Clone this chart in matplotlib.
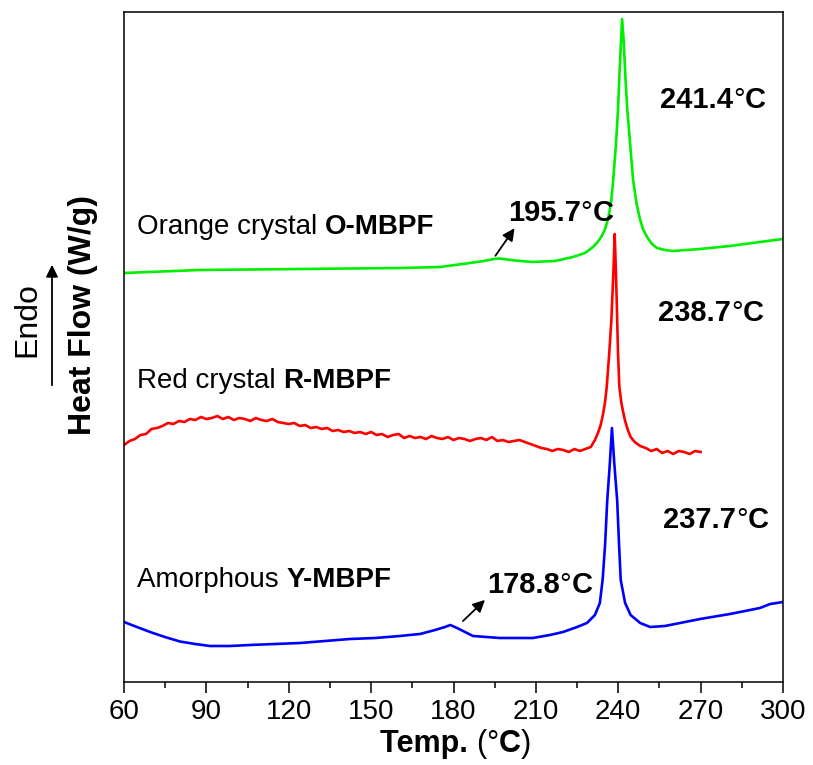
import matplotlib
matplotlib.use("Agg")
import matplotlib.pyplot as plt
from matplotlib.ticker import MultipleLocator

FONT = ["Liberation Sans", "DejaVu Sans"]
plt.rcParams["font.family"] = FONT

# ---- DSC traces (temperature in °C, heat flow in arbitrary offset units) ----
o_temp = [60, 87.7, 124.1, 160.5, 175.1, 186.0, 191.0, 194.7, 196.9, 199.5, 202.4,
          208.9, 217.0, 223.5, 227.9, 230.8, 232.5, 234.0, 235.2, 236.3, 237.4,
          238.1, 239.2, 239.9, 240.4, 241.0, 241.4, 242.0, 242.6, 243.3, 244.3,
          245.4, 246.7, 247.9, 249.0, 250.5, 252.3, 254.1, 257.0, 259.9, 269.8,
          280.7, 291.6, 300]
o_flow = [4.09, 4.12, 4.13, 4.14, 4.15, 4.19, 4.21, 4.23, 4.235, 4.225, 4.215,
          4.20, 4.21, 4.25, 4.29, 4.35, 4.40, 4.46, 4.53, 4.63, 4.80,
          5.00, 5.39, 5.72, 6.05, 6.40, 6.63, 6.40, 6.05, 5.72, 5.39,
          5.02, 4.78, 4.63, 4.53, 4.45, 4.38, 4.34, 4.32, 4.31, 4.33,
          4.36, 4.40, 4.43]

r_temp = [60, 62, 64, 66, 68, 70, 72, 74, 76, 78, 80, 82, 84, 86, 88, 90, 92, 94,
          96, 98, 100, 102, 104, 106, 108, 110, 112, 114, 116, 118, 120, 122, 124,
          126, 128, 130, 132, 134, 136, 138, 140, 142, 144, 146, 148, 150, 152, 154,
          156, 158, 160, 162, 164, 166, 168, 170, 172, 174, 176, 178, 180, 182, 184,
          186, 188, 190, 192, 194, 196, 198, 200, 202, 204, 206, 208, 210, 212, 214,
          216, 218, 220, 222, 224, 226, 228, 230, 231.5, 232.6, 233.6, 234.4, 235.2,
          235.8, 236.7, 237.5, 238.0, 238.3, 238.7, 239.1, 239.5, 239.9, 240.4,
          241.2, 242.4, 243.5, 244.5, 246, 248, 250, 252, 254, 256, 258, 260, 262,
          264, 266, 268, 270]
r_flow = [2.37, 2.41, 2.43, 2.47, 2.48, 2.53, 2.54, 2.56, 2.59, 2.58, 2.61, 2.60,
          2.63, 2.62, 2.65, 2.63, 2.64, 2.66, 2.63, 2.65, 2.62, 2.64, 2.63, 2.61,
          2.64, 2.62, 2.61, 2.63, 2.60, 2.59, 2.58, 2.59, 2.56, 2.57, 2.54, 2.55,
          2.53, 2.54, 2.51, 2.52, 2.50, 2.51, 2.49, 2.50, 2.48, 2.50, 2.47, 2.48,
          2.45, 2.47, 2.48, 2.44, 2.46, 2.44, 2.45, 2.43, 2.46, 2.44, 2.43, 2.45,
          2.42, 2.44, 2.43, 2.41, 2.43, 2.44, 2.42, 2.45, 2.41, 2.42, 2.40, 2.41,
          2.42, 2.40, 2.38, 2.36, 2.34, 2.33, 2.31, 2.33, 2.32, 2.30, 2.33, 2.31,
          2.33, 2.35, 2.42, 2.49, 2.57, 2.67, 2.80, 2.95, 3.28, 3.62, 3.95, 4.15,
          4.48, 4.15, 3.75, 3.30, 2.95, 2.78, 2.62, 2.52, 2.45, 2.40, 2.36, 2.34,
          2.31, 2.33, 2.29, 2.31, 2.28, 2.31, 2.30, 2.28, 2.31, 2.30]

y_temp = [60, 64.7, 69.5, 74.9, 80.4, 85.9, 91.3, 98.6, 105.9, 115.0, 124.1, 133.2,
          142.3, 151.4, 160.5, 164.0, 167.8, 173.3, 176.9, 178.8, 181.3, 184.2,
          187.1, 196.9, 208.9, 215.1, 219.9, 225.0, 228.6, 231.5, 233.3, 234.3,
          235.2, 236.0, 236.9, 237.7, 238.6, 239.6, 240.3, 240.9, 242.5, 244.5,
          248.0, 251.6, 257.0, 262.5, 269.8, 280.7, 291.6, 295.3, 300]
y_flow = [0.60, 0.55, 0.50, 0.45, 0.405, 0.38, 0.36, 0.36, 0.37, 0.38, 0.39, 0.41,
          0.43, 0.44, 0.46, 0.47, 0.48, 0.52, 0.55, 0.57, 0.54, 0.50,
          0.46, 0.44, 0.44, 0.47, 0.50, 0.55, 0.59, 0.67, 0.79, 1.02,
          1.37, 1.82, 2.17, 2.54, 2.17, 1.82, 1.37, 1.02, 0.79, 0.67,
          0.59, 0.55, 0.56, 0.59, 0.63, 0.68, 0.74, 0.78, 0.80]

x_ticks = [60, 90, 120, 150, 180, 210, 240, 270, 300]

fig = plt.figure(figsize=(8.13, 7.65), dpi=100)
ax = fig.add_axes([124 / 813, 1 - 682 / 765, 659 / 813, 670 / 765])

ax.plot(o_temp, o_flow, color="#00ee00", lw=1.9)
ax.plot(r_temp, r_flow, color="#ff0000", lw=1.9)
ax.plot(y_temp, y_flow, color="#0000ff", lw=1.9)

ax.set_xlim(60, 300)
ax.set_ylim(0, 6.70)
ax.set_xticks(x_ticks)
ax.xaxis.set_minor_locator(MultipleLocator(15))
ax.set_yticks([])
ax.tick_params(axis="x", which="major", direction="out", length=8, width=1.1,
               labelsize=20, pad=4)
ax.tick_params(axis="x", which="minor", direction="out", length=4, width=1.1)
for sp in ax.spines.values():
    sp.set_linewidth(1.1)


def rich_text(x, y, parts, size, coords="data"):
    """Draw a run of text pieces with mixed weights, left to right."""
    t = None
    for s, w in parts:
        if t is None:
            t = ax.annotate(s, xy=(x, y), xycoords=coords, ha="left", va="center",
                            fontsize=size, fontweight=w)
        else:
            t = ax.annotate(s, xy=(1, 0), xycoords=t, ha="left", va="bottom",
                            fontsize=size, fontweight=w)
    return t


DEG = "\u00b0"
for T, v, lab in [(255.2, 5.82, "241.4"), (254.5, 3.69, "238.7"), (256.3, 1.62, "237.7"),
                  (199.8, 4.69, "195.7"), (192.2, 0.97, "178.8")]:
    rich_text(T, v, [(lab, "bold"), (DEG, "normal"), ("C", "bold")], 21)

rich_text(64.7, 4.55, [("Orange crystal ", "normal"), ("O-MBPF", "bold")], 20)
rich_text(64.7, 3.01, [("Red crystal ", "normal"), ("R-MBPF", "bold")], 20)
rich_text(64.7, 1.02, [("Amorphous ", "normal"), ("Y-MBPF", "bold")], 20)

arrow = dict(arrowstyle="-|>", color="black", lw=1.3, mutation_scale=18)
ax.annotate("", xy=(202.8, 4.56), xytext=(194.7, 4.24), arrowprops=arrow)
ax.annotate("", xy=(192.2, 0.84), xytext=(182.7, 0.59), arrowprops=arrow)

# axis titles
rich_text(380, 765 - 744, [("Temp. ", "bold"), ("(", "normal"), (DEG, "normal"),
                           ("C", "bold"), (")", "normal")], 22, coords="figure pixels")
fig.text(83 / 813, 1 - 315 / 765, "Heat Flow (W/g)", rotation=90, ha="center",
         va="center", fontsize=23, fontweight="bold")
fig.text(27 / 813, 1 - 320 / 765, "Endo", rotation=90, ha="center", va="center",
         fontsize=23)
ax.annotate("", xy=(52, 765 - 262), xytext=(52, 765 - 388), xycoords="figure pixels",
            textcoords="figure pixels",
            arrowprops=dict(arrowstyle="-|>", color="black", lw=1.3, mutation_scale=18))

fig.savefig("out.png", dpi=100)
